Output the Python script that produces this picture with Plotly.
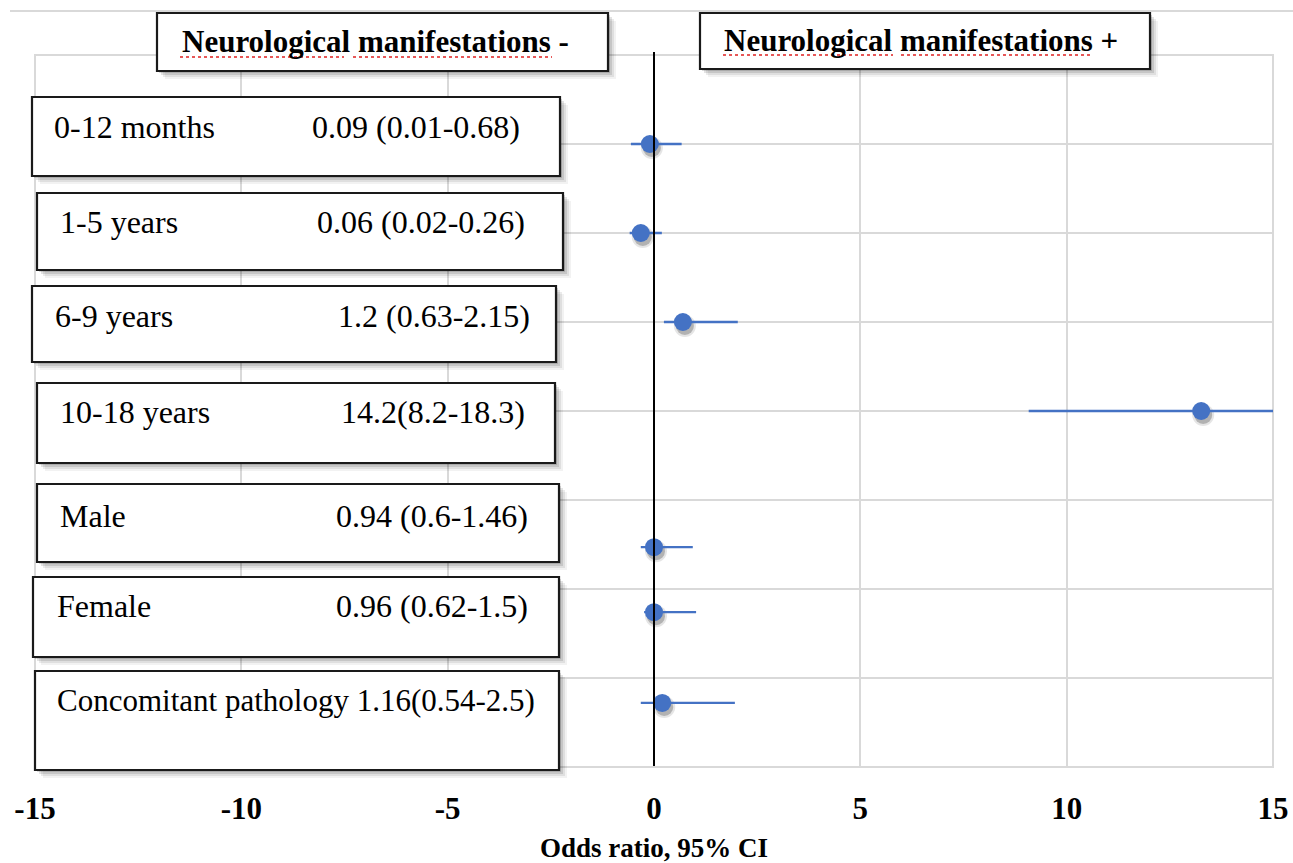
import plotly.graph_objects as go

# ---------------- data ----------------
categories = ["0-12 months", "1-5 years", "6-9 years", "10-18 years", "Male", "Female", "Concomitant pathology"]
or_labels = ["0.09 (0.01-0.68)", "0.06 (0.02-0.26)", "1.2 (0.63-2.15)", "14.2(8.2-18.3)",
             "0.94 (0.6-1.46)", "0.96 (0.62-1.5)", "1.16(0.54-2.5)"]
or_plot = [-0.10, -0.32, 0.70, 13.26, 0.00, 0.00, 0.20]
ci_low = [-0.56, -0.59, 0.24, 9.08, -0.32, -0.24, -0.32]
ci_high = [0.67, 0.19, 2.03, 15.00, 0.94, 1.02, 1.96]
row_y = [7.0, 6.0, 5.0, 4.0, 2.47, 1.74, 0.72]
x_ticks = [-15, -10, -5, 0, 5, 10, 15]
header_neg = "Neurological manifestations -"
header_pos = "Neurological manifestations +"
x_title = "Odds ratio, 95% CI"

# ---------------- layout helpers (pixel geometry) ----------------
W, H = 1293, 863
L, R, T, B = 35, 20, 55, 96
PW, PH = W - L - R, H - T - B
XR, YR = [-15, 15], [0, 8]
X_PER_PX = (XR[1] - XR[0]) / PW
Y_PER_PX = (YR[1] - YR[0]) / PH


def px(x):
    return (x - L) / PW


def py(y):
    return (H - B - y) / PH


BLUE = "#4472C4"
SERIF = "Liberation Serif"
GRID = "#D9D9D9"

fig = go.Figure()

# marker shadows (drawn on an invisible subplot whose range is nudged so they sit 2px right, 4px down)
for size, alpha in [(22, 0.10), (18, 0.22)]:
    fig.add_trace(go.Scatter(
        x=or_plot, y=row_y, mode="markers", xaxis="x", yaxis="y",
        marker=dict(color=f"rgba(0,0,0,{alpha})", size=size, line=dict(width=0)),
        showlegend=False, hoverinfo="skip",
    ))

# main points with 95% CI
fig.add_trace(go.Scatter(
    x=or_plot, y=row_y, mode="markers", xaxis="x2", yaxis="y2",
    marker=dict(color=BLUE, size=18, symbol="circle", line=dict(width=0)),
    error_x=dict(type="data", symmetric=False,
                 array=[h - v for h, v in zip(ci_high, or_plot)],
                 arrayminus=[v - l for v, l in zip(or_plot, ci_low)],
                 color=BLUE, thickness=2.3, width=0),
    showlegend=False, hoverinfo="skip",
))

shapes = []
annotations = []

# top light rule of chart area
shapes.append(dict(type="line", xref="paper", yref="paper", x0=px(10), x1=px(1293), y0=py(11), y1=py(11),
                   line=dict(color=GRID, width=2), layer="below"))

# boxes: (x0, x1, y0, y1) in pixels
header_boxes = [(157, 608, 13, 71), (700, 1150, 13, 69)]
row_boxes = [(32, 560, 97, 176), (37, 563, 193, 270), (32, 556, 286, 362), (37, 555, 383, 463),
             (37, 559, 484, 562), (33, 559, 577, 657), (35, 559, 671, 770)]


def add_box(b):
    x0, x1, y0, y1 = b
    for k, a in [(8, 0.05), (6, 0.08), (4, 0.11), (2, 0.14)]:
        shapes.append(dict(type="rect", xref="paper", yref="paper",
                           x0=px(x0 + k), x1=px(x1 + k), y0=py(y1 + k), y1=py(y0 + k),
                           fillcolor=f"rgba(0,0,0,{a})", line=dict(width=0), layer="above"))
    shapes.append(dict(type="rect", xref="paper", yref="paper",
                       x0=px(x0), x1=px(x1), y0=py(y1), y1=py(y0),
                       fillcolor="white", line=dict(color="#1a1a1a", width=2.2), layer="above"))


for b in header_boxes + row_boxes:
    add_box(b)

# vertical reference line at OR axis 0, drawn above the markers
shapes.append(dict(type="line", xref="x2", yref="paper", x0=0, x1=0, y0=py(766), y1=py(52),
                   line=dict(color="black", width=2), layer="above"))

# header texts
for txt, tx, ty in [(header_neg, 180, 42), (header_pos, 722, 40)]:
    annotations.append(dict(text=txt, xref="paper", yref="paper", x=px(tx), y=py(ty),
                            xanchor="left", yanchor="middle", showarrow=False,
                            font=dict(family=SERIF, size=31, color="black", weight="bold")))

# spell-check style red dotted underlines
for x0, x1, yy in [(180, 344, 57), (353, 552, 57), (723, 893, 55), (901, 1093, 55)]:
    shapes.append(dict(type="line", xref="paper", yref="paper", x0=px(x0), x1=px(x1), y0=py(yy), y1=py(yy),
                       line=dict(color="#E02020", width=1.6, dash="dot"), layer="above"))

# row texts: label x, value right x, text center y
row_text_pos = [(52, 522, 127), (58, 527, 222), (53, 532, 316), (58, 527, 412),
                (58, 530, 516), (55, 530, 606)]
for i, (lx, vx, ty) in enumerate(row_text_pos):
    annotations.append(dict(text=categories[i], xref="paper", yref="paper", x=px(lx), y=py(ty),
                            xanchor="left", yanchor="middle", showarrow=False,
                            font=dict(family=SERIF, size=32, color="black")))
    annotations.append(dict(text=or_labels[i], xref="paper", yref="paper", x=px(vx), y=py(ty),
                            xanchor="right", yanchor="middle", showarrow=False,
                            font=dict(family=SERIF, size=32, color="black")))
annotations.append(dict(text=categories[6] + " " + or_labels[6], xref="paper", yref="paper",
                        x=px(55), y=py(700), xanchor="left", yanchor="middle", showarrow=False,
                        font=dict(family=SERIF, size=31, color="black")))

fig.update_layout(
    width=W, height=H, autosize=False,
    margin=dict(l=L, r=R, t=T, b=B, pad=0, autoexpand=False),
    paper_bgcolor="white", plot_bgcolor="rgba(0,0,0,0)",
    shapes=shapes, annotations=annotations,
    xaxis=dict(range=[XR[0] - 2 * X_PER_PX, XR[1] - 2 * X_PER_PX], domain=[0, 1], anchor="y",
               visible=False, fixedrange=True, automargin=False),
    yaxis=dict(range=[YR[0] + 4 * Y_PER_PX, YR[1] + 4 * Y_PER_PX], domain=[0, 1], anchor="x",
               visible=False, fixedrange=True, automargin=False),
    xaxis2=dict(range=XR, domain=[0, 1], anchor="y2", tickvals=x_ticks,
                ticktext=[str(v) for v in x_ticks],
                showgrid=True, gridcolor=GRID, gridwidth=2,
                zeroline=False, showline=False, automargin=False,
                ticks="outside", ticklen=14, tickcolor="rgba(0,0,0,0)",
                tickfont=dict(family=SERIF, size=31, color="black", weight="bold"),
                title=dict(text=x_title, standoff=24,
                           font=dict(family=SERIF, size=27, color="black", weight="bold")),
                fixedrange=True),
    yaxis2=dict(range=YR, dtick=1, domain=[0, 1], anchor="x2",
                showgrid=True, gridcolor=GRID, gridwidth=2, automargin=False,
                zeroline=False, showticklabels=False, showline=False, fixedrange=True),
)
# plot border (outer gridlines)
fig.add_shape(type="rect", xref="paper", yref="paper", x0=0, x1=1, y0=0, y1=1,
              line=dict(color=GRID, width=2), layer="below")

fig.write_html("out.html", config={"displayModeBar": False},
               post_script="document.body.style.margin='0px';")
